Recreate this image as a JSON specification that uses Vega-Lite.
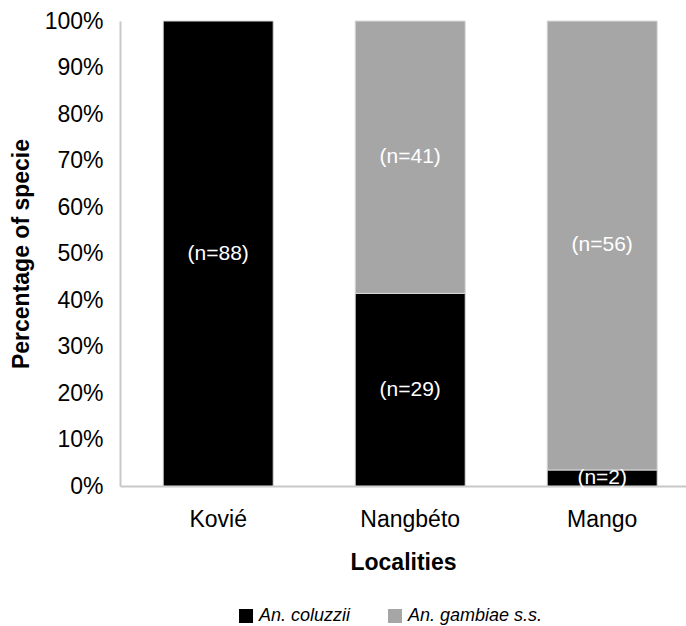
{
  "$schema": "https://vega.github.io/schema/vega-lite/v6.json",
  "width": 566,
  "height": 465,
  "autosize": "none",
  "padding": {"left": 120, "top": 21, "right": 0, "bottom": 140},
  "background": "white",
  "config": {
    "view": {"stroke": null},
    "font": "Liberation Sans",
    "axis": {"labelFont": "Liberation Sans", "titleFont": "Liberation Sans", "labelColor": "black", "titleColor": "black", "grid": false, "ticks": false, "domainColor": "#c8c8c8", "domainWidth": 2, "labelFontSize": 23, "titleFontSize": 23, "titleFontWeight": "bold"}
  },
  "data": {
    "values": [
      {"locality": "Kovié", "species": "An. coluzzii", "k": 1, "n": 88, "label": "(n=88)"},
      {"locality": "Nangbéto", "species": "An. coluzzii", "k": 1, "n": 29, "label": "(n=29)"},
      {"locality": "Nangbéto", "species": "An. gambiae s.s.", "k": 2, "n": 41, "label": "(n=41)"},
      {"locality": "Mango", "species": "An. coluzzii", "k": 1, "n": 2, "label": "(n=2)"},
      {"locality": "Mango", "species": "An. gambiae s.s.", "k": 2, "n": 56, "label": "(n=56)"}
    ]
  },
  "encoding": {
    "x": {
      "field": "locality", "type": "nominal", "sort": ["Kovié", "Nangbéto", "Mango"],
      "scale": {"paddingInner": 0.427, "paddingOuter": 0.1875, "align": 0.6},
      "axis": {"title": "Localities", "labelAngle": 0, "labelPadding": 22, "titlePadding": 20}
    }
  },
  "layer": [
    {
      "mark": {"type": "bar", "stroke": "#d9d9d9", "strokeWidth": 1},
      "encoding": {
        "y": {"field": "n", "type": "quantitative", "stack": "normalize",
          "scale": {"domain": [0, 1], "nice": false},
          "axis": {"title": "Percentage of specie", "format": ".0%", "values": [0, 0.1, 0.2, 0.3, 0.4, 0.5, 0.6, 0.7, 0.8, 0.9, 1], "labelPadding": 17, "titlePadding": 11}},
        "order": {"field": "k", "type": "quantitative", "sort": "ascending"},
        "color": {"field": "species", "type": "nominal",
          "scale": {"domain": ["An. coluzzii", "An. gambiae s.s."], "range": ["#000000", "#a6a6a6"]},
          "legend": {"title": null, "orient": "none", "direction": "horizontal", "legendX": 117, "legendY": 586, "symbolType": "square", "symbolSize": 196, "symbolStrokeWidth": 0, "labelFontSize": 18, "labelFontStyle": "italic", "labelFont": "Liberation Sans", "labelColor": "black", "columnPadding": 35, "labelOffset": 4}}
      }
    },
    {
      "mark": {"type": "text", "color": "white", "fontSize": 21, "baseline": "middle"},
      "encoding": {
        "y": {"field": "n", "type": "quantitative", "stack": "normalize", "bandPosition": 0.5},
        "order": {"field": "k", "type": "quantitative", "sort": "ascending"},
        "text": {"field": "label"}
      }
    }
  ]
}
